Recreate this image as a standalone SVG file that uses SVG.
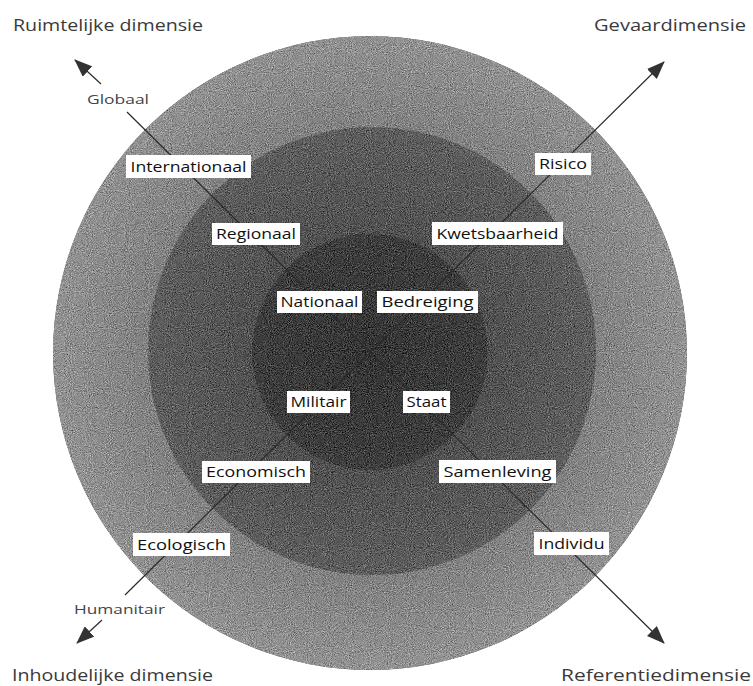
<svg xmlns="http://www.w3.org/2000/svg" width="753" height="686" viewBox="0 0 753 686">
<style>
.title{font-family:"Open Sans","Noto Sans","Liberation Sans",sans-serif;font-size:17px;fill:#3a3a3a}
.end{font-family:"Open Sans","Noto Sans","Liberation Sans",sans-serif;font-size:13.5px;fill:#444}
.box{fill:#ffffff}
.lbl{font-family:"Open Sans","Noto Sans","Liberation Sans",sans-serif;font-size:15px;fill:#111;text-anchor:middle}
.axis{stroke:#2a2a2a;stroke-width:1.2;fill:none}
</style>
<defs>
<radialGradient id="gOuter" cx="370" cy="352" r="318" gradientUnits="userSpaceOnUse">
<stop offset="0.6" stop-color="#7c7c7c"/><stop offset="1" stop-color="#939393"/>
</radialGradient>
<radialGradient id="gMid" cx="370" cy="352" r="224" gradientUnits="userSpaceOnUse">
<stop offset="0.5" stop-color="#515151"/><stop offset="1" stop-color="#5f5f5f"/>
</radialGradient>
<radialGradient id="gIn" cx="370" cy="352" r="118" gradientUnits="userSpaceOnUse">
<stop offset="0" stop-color="#363636"/><stop offset="1" stop-color="#3f3f3f"/>
</radialGradient>
<filter id="grain" x="0" y="0" width="100%" height="100%" color-interpolation-filters="sRGB">
<feTurbulence type="fractalNoise" baseFrequency="0.95" numOctaves="2" seed="7" result="n"/>
<feColorMatrix in="n" type="matrix" values="0.33 0.33 0.33 0 0  0.33 0.33 0.33 0 0  0.33 0.33 0.33 0 0  0 0 0 0 1" result="g"/>
<feComposite in="SourceGraphic" in2="g" operator="arithmetic" k1="0" k2="1" k3="1.1" k4="-0.55" result="c"/>
<feComposite in="c" in2="SourceGraphic" operator="in"/>
</filter>
<marker id="arr" viewBox="0 0 18 14" refX="17" refY="7" markerWidth="18" markerHeight="14" markerUnits="userSpaceOnUse" orient="auto">
<path d="M0,0 L18,7 L0,14 z" fill="#333"/>
</marker>
</defs>
<rect width="753" height="686" fill="#ffffff"/>
<g id="circles" filter="url(#grain)">
<circle id="outer" cx="370" cy="353" r="317" fill="url(#gOuter)"/>
<circle id="middle" cx="372" cy="351" r="224" fill="url(#gMid)"/>
<circle id="inner" cx="370" cy="352" r="118" fill="url(#gIn)"/>
</g>
<g id="connectors">
<line class="axis" x1="127" y1="112" x2="664" y2="643" marker-end="url(#arr)"/>
<line class="axis" x1="101" y1="84" x2="75" y2="60" marker-end="url(#arr)"/>
<line class="axis" x1="125" y1="595" x2="664" y2="62" marker-end="url(#arr)"/>
<line class="axis" x1="102" y1="620" x2="77" y2="643" marker-end="url(#arr)"/>
</g>
<g id="titles">
<text class="title" x="13" y="31" textLength="190" lengthAdjust="spacingAndGlyphs">Ruimtelijke dimensie</text>
<text class="title" x="594" y="31" textLength="152" lengthAdjust="spacingAndGlyphs">Gevaardimensie</text>
<text class="title" x="12" y="681" textLength="201" lengthAdjust="spacingAndGlyphs">Inhoudelijke dimensie</text>
<text class="title" x="561" y="681" textLength="190" lengthAdjust="spacingAndGlyphs">Referentiedimensie</text>
</g>
<g id="ends">
<text class="end" x="87" y="104" textLength="62" lengthAdjust="spacingAndGlyphs">Globaal</text>
<text class="end" x="74" y="614" textLength="91" lengthAdjust="spacingAndGlyphs">Humanitair</text>
</g>
<g id="n-internationaal"><rect class="box" x="126" y="155" width="125" height="23"/><text class="lbl" x="188.5" y="172" textLength="116" lengthAdjust="spacingAndGlyphs">Internationaal</text></g>
<g id="n-regionaal"><rect class="box" x="212" y="223" width="88" height="22"/><text class="lbl" x="256" y="239" textLength="80" lengthAdjust="spacingAndGlyphs">Regionaal</text></g>
<g id="n-nationaal"><rect class="box" x="277" y="291" width="85" height="22"/><text class="lbl" x="319.5" y="307" textLength="78" lengthAdjust="spacingAndGlyphs">Nationaal</text></g>
<g id="n-bedreiging"><rect class="box" x="377" y="291" width="101" height="22"/><text class="lbl" x="427.5" y="307" textLength="92" lengthAdjust="spacingAndGlyphs">Bedreiging</text></g>
<g id="n-militair"><rect class="box" x="287" y="391" width="63" height="22"/><text class="lbl" x="318.5" y="407" textLength="56" lengthAdjust="spacingAndGlyphs">Militair</text></g>
<g id="n-staat"><rect class="box" x="403" y="391" width="47" height="22"/><text class="lbl" x="426.5" y="407" textLength="40" lengthAdjust="spacingAndGlyphs">Staat</text></g>
<g id="n-risico"><rect class="box" x="535" y="153" width="56" height="22"/><text class="lbl" x="563" y="169" textLength="48" lengthAdjust="spacingAndGlyphs">Risico</text></g>
<g id="n-kwetsbaarheid"><rect class="box" x="432" y="222" width="131" height="23"/><text class="lbl" x="497.5" y="239" textLength="122" lengthAdjust="spacingAndGlyphs">Kwetsbaarheid</text></g>
<g id="n-economisch"><rect class="box" x="202" y="461" width="108" height="22"/><text class="lbl" x="256" y="477" textLength="100" lengthAdjust="spacingAndGlyphs">Economisch</text></g>
<g id="n-ecologisch"><rect class="box" x="133" y="533" width="97" height="23"/><text class="lbl" x="181.5" y="550" textLength="89" lengthAdjust="spacingAndGlyphs">Ecologisch</text></g>
<g id="n-samenleving"><rect class="box" x="439" y="460" width="117" height="23"/><text class="lbl" x="497.5" y="477" textLength="108" lengthAdjust="spacingAndGlyphs">Samenleving</text></g>
<g id="n-individu"><rect class="box" x="534" y="532" width="75" height="23"/><text class="lbl" x="571.5" y="549" textLength="66" lengthAdjust="spacingAndGlyphs">Individu</text></g>
</svg>
